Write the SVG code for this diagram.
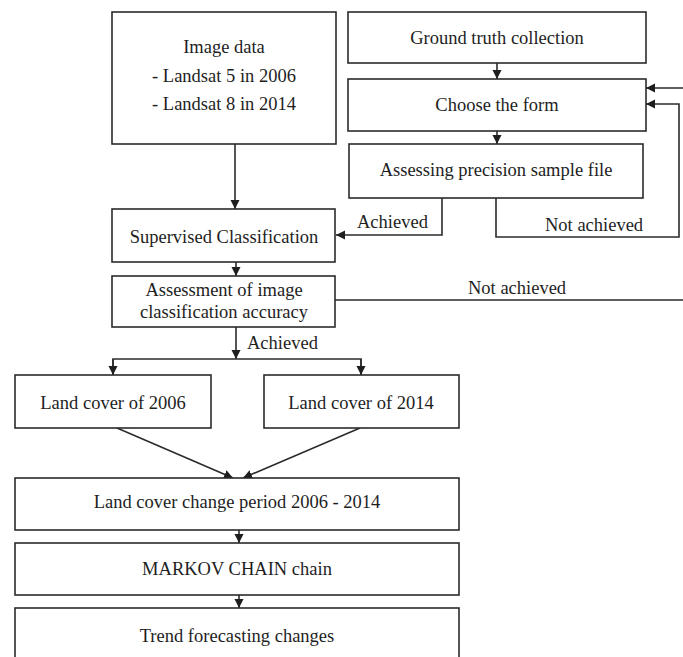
<svg xmlns="http://www.w3.org/2000/svg" width="683" height="657" viewBox="0 0 683 657">
<style>
.box{fill:#fff;stroke:#2b2b2b;stroke-width:1.6}
.t{font-family:"Liberation Serif","Times New Roman",serif;font-size:18.5px;fill:#1e1e1e;text-anchor:middle}
.l{font-family:"Liberation Serif","Times New Roman",serif;font-size:18.5px;fill:#1e1e1e}
.c{fill:none;stroke:#2b2b2b;stroke-width:1.6}
</style>
<defs>
<marker id="ah" markerUnits="userSpaceOnUse" markerWidth="10" markerHeight="10" refX="9" refY="5" orient="auto">
<path d="M0,0.5 L9,5 L0,9.5 z" fill="#1e1e1e"/>
</marker>
</defs>
<rect width="683" height="657" fill="#fff"/>
<g id="connectors">
<path class="c" d="M235,144 V209" marker-end="url(#ah)"/>
<path class="c" d="M497,63 V79" marker-end="url(#ah)"/>
<path class="c" d="M497,131 V144" marker-end="url(#ah)"/>
<path class="c" d="M442,198 V235 H336" marker-end="url(#ah)"/>
<path class="c" d="M496,198 V237 H679 V104 H646" marker-end="url(#ah)"/>
<path class="c" d="M335,300 H690 V88 H646" marker-end="url(#ah)"/>
<path class="c" d="M236,262 V276" marker-end="url(#ah)"/>
<path class="c" d="M236,327 V359" marker-end="url(#ah)"/>
<path class="c" d="M113,375 V359 H361 V375" />
<path class="c" d="M113,359 V375" marker-end="url(#ah)"/>
<path class="c" d="M361,359 V375" marker-end="url(#ah)"/>
<path class="c" d="M117,428 L233,478" marker-end="url(#ah)"/>
<path class="c" d="M360,428 L243,478" marker-end="url(#ah)"/>
<path class="c" d="M239,530 V543" marker-end="url(#ah)"/>
<path class="c" d="M239,595 V608" marker-end="url(#ah)"/>
<text class="l" x="357" y="228">Achieved</text>
<text class="l" x="545" y="231">Not achieved</text>
<text class="l" x="468" y="294">Not achieved</text>
<text class="l" x="247" y="349">Achieved</text>
</g>
<g id="image-data">
<rect class="box" x="112" y="12" width="224" height="132"/>
<text class="t" x="224" y="53">Image data</text>
<text class="t" x="224" y="82">- Landsat 5 in 2006</text>
<text class="t" x="224" y="110">- Landsat 8 in 2014</text>
</g>
<g id="ground-truth">
<rect class="box" x="348" y="12" width="298" height="51"/>
<text class="t" x="497" y="44">Ground truth collection</text>
</g>
<g id="choose-form">
<rect class="box" x="348" y="79" width="298" height="52"/>
<text class="t" x="497" y="111">Choose the form</text>
</g>
<g id="assessing-precision">
<rect class="box" x="349" y="144" width="294" height="54"/>
<text class="t" x="496" y="176">Assessing precision sample file</text>
</g>
<g id="supervised">
<rect class="box" x="112" y="209" width="223" height="53"/>
<text class="t" x="224" y="243">Supervised Classification</text>
</g>
<g id="assessment">
<rect class="box" x="112" y="276" width="223" height="51"/>
<text class="t" x="224" y="296">Assessment of image</text>
<text class="t" x="224" y="318">classification accuracy</text>
</g>
<g id="lc2006">
<rect class="box" x="15" y="375" width="196" height="53"/>
<text class="t" x="113" y="409">Land cover of 2006</text>
</g>
<g id="lc2014">
<rect class="box" x="264" y="375" width="195" height="53"/>
<text class="t" x="361" y="409">Land cover of 2014</text>
</g>
<g id="change">
<rect class="box" x="15" y="478" width="444" height="52"/>
<text class="t" x="237" y="508">Land cover change period 2006 - 2014</text>
</g>
<g id="markov">
<rect class="box" x="15" y="543" width="444" height="52"/>
<text class="t" x="237" y="575">MARKOV CHAIN chain</text>
</g>
<g id="trend">
<rect class="box" x="15" y="608" width="444" height="60"/>
<text class="t" x="237" y="642">Trend forecasting changes</text>
</g>
</svg>
